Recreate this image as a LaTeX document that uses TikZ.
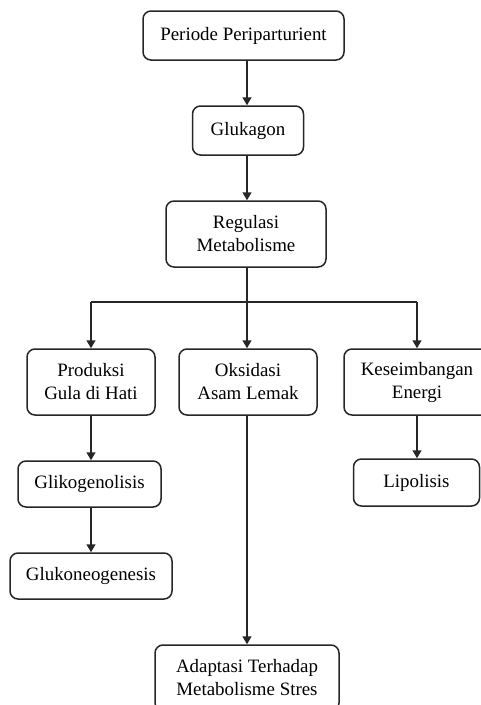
\documentclass[tikz,border=0pt]{standalone}
\usepackage{fontspec}
\setmainfont{Liberation Serif}
\usetikzlibrary{arrows.meta}
\begin{document}
\begin{tikzpicture}[x=1pt,y=-1pt,
  box/.style={draw=black!85, line width=1.5pt, rounded corners=8pt, align=center,
    inner sep=0pt, font=\fontsize{18.9}{23}\selectfont, fill=white},
  conn/.style={draw=black!85, line width=1.5pt, -{Triangle[length=8pt,width=9pt]}},
  link/.style={draw=black!85, line width=1.5pt}]
\useasboundingbox (0,0) rectangle (480,705);
\node[box, minimum width=201pt, minimum height=49pt] (per) at (243.5,35.5) {Periode Periparturient};
\node[box, minimum width=111pt, minimum height=49pt] (glu) at (248,130.5) {Glukagon};
\node[box, minimum width=160pt, minimum height=66pt] (reg) at (246,234) {Regulasi\\Metabolisme};
\node[box, minimum width=128pt, minimum height=66pt] (prod) at (91,382) {Produksi\\Gula di Hati};
\node[box, minimum width=138pt, minimum height=66pt] (oks) at (248,382) {Oksidasi\\Asam Lemak};
\node[box, minimum width=146pt, minimum height=66pt] (kes) at (417,382) {Keseimbangan\\Energi};
\node[box, minimum width=143pt, minimum height=46pt] (gli) at (89.5,484) {Glikogenolisis};
\node[box, minimum width=126pt, minimum height=47pt] (lip) at (416.5,482.5) {Lipolisis};
\node[box, minimum width=162pt, minimum height=46pt] (glk) at (91,576) {Glukoneogenesis};
\node[box, minimum width=184pt, minimum height=66pt] (ada) at (247,678) {Adaptasi Terhadap\\Metabolisme Stres};
\coordinate (bc) at (247,302);
\coordinate (bl) at (91,302);
\coordinate (br) at (417,302);
\draw[conn] (per.south -| 247,0) -- (glu.north -| 247,0);
\draw[conn] (glu.south -| 247,0) -- (reg.north -| 247,0);
\draw[link] (reg.south -| bc) -- (bc);
\draw[link] (bl) -- (br);
\draw[conn] (bl) -- (prod.north -| bl);
\draw[conn] (bc) -- (oks.north -| bc);
\draw[conn] (br) -- (kes.north -| br);
\draw[conn] (prod.south -| bl) -- (gli.north -| bl);
\draw[conn] (gli.south -| bl) -- (glk.north -| bl);
\draw[conn] (kes.south -| br) -- (lip.north -| br);
\draw[conn] (oks.south -| bc) -- (ada.north -| bc);
\end{tikzpicture}
\end{document}
